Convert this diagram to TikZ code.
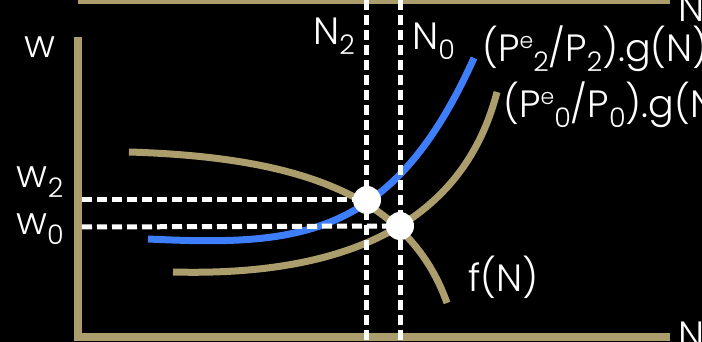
\documentclass[tikz,border=0pt]{standalone}
\usepackage{fontspec}
\setmainfont{Poppins Light}
\usepackage{xcolor}

\definecolor{axistan}{RGB}{172,157,108}
\definecolor{curveblue}{RGB}{62,126,250}

% lowered and raised indices in text
\newcommand{\lowr}[1]{\raisebox{-10pt}{\fontsize{27}{27}\selectfont #1}}
\newcommand{\uppr}[1]{\raisebox{13pt}{\fontsize{22}{22}\selectfont #1}}

\tikzset{
  lbl/.style={text=white, font=\fontsize{38}{40}\selectfont, inner sep=0pt},
  axisline/.style={draw=axistan, line width=8pt},
  curve/.style={line width=7pt},
  guide/.style={draw=white, line width=5pt, dash pattern=on 10pt off 5pt},
  eqpt/.style={circle, fill=white, minimum size=28pt, inner sep=0pt},
}

\begin{document}
\begin{tikzpicture}[x=1pt,y=1pt]
\fill[black] (0,0) rectangle (702,342);
\clip (0,0) rectangle (702,342);

% axes
\draw[axisline] (78,342) -- (670,342);
\draw[axisline] (78,305) -- (78,5) -- (670,5);

% curves
\draw[curve, draw=axistan] (129,190) .. controls (289,185) and (407,152) .. (447,39);
\draw[curve, draw=axistan] (173,70) .. controls (323,66) and (459.5,104.5) .. (497,250);
\draw[curve, draw=curveblue] (148,103) .. controls (298,96) and (392,102) .. (474,284);

% equilibria and guides
\coordinate (E2) at (367,142);
\coordinate (E0) at (400,116);
\coordinate (w2ax) at (82,142);
\coordinate (w0ax) at (82,115);
\coordinate (N2top) at (366,342);
\coordinate (N2bot) at (366,0);
\coordinate (N0top) at (400,342);
\coordinate (N0bot) at (400,0);

\draw[guide] (w2ax) -- (E2);
\draw[guide] (w0ax) -- (E0);
\draw[guide] (N2top) -- (N2bot);
\draw[guide] (N0top) -- (N0bot);

\node[eqpt] (dotE2) at (E2) {};
\node[eqpt] (dotE0) at (E0) {};

% labels
\node[lbl, anchor=base] (wlab) at (40,284) {w};
\node[lbl, anchor=base] (w2lab) at (40,154) {w\lowr{2}};
\node[lbl, anchor=base] (w0lab) at (40,107) {w\lowr{0}};
\node[lbl, anchor=base west] (N2lab) at (313,297) {N\lowr{2}};
\node[lbl, anchor=base west] (N0lab) at (412,292) {N\lowr{0}};
\node[lbl, anchor=base west] (glab2) at (482,280) {(P\uppr{e}\lowr{2}/P\lowr{2}).g(N)};
\node[lbl, anchor=base west] (glab0) at (503,224) {(P\uppr{e}\lowr{0}/P\lowr{0}).g(N)};
\node[lbl, anchor=base west] (flab) at (468,50) {f(N)};
\node[lbl, anchor=base west] (Ntop) at (678,320) {N};
\node[lbl, anchor=base west] (Nbot) at (678,-7) {N};
\end{tikzpicture}
\end{document}
